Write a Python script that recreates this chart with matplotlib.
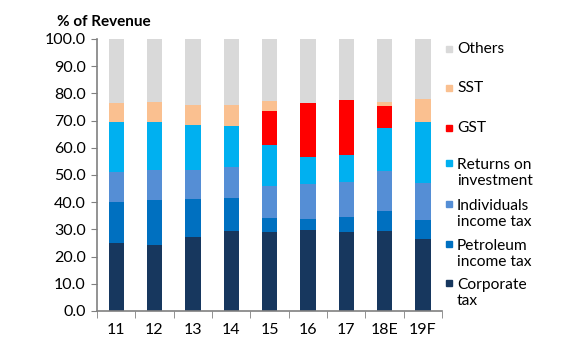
import matplotlib
matplotlib.use("Agg")
import matplotlib.pyplot as plt
import numpy as np
from matplotlib.patches import Rectangle

plt.rcParams['font.family'] = ['Lato', 'DejaVu Sans']

years = ["11", "12", "13", "14", "15", "16", "17", "18E", "19F"]
corporate = [25.0, 24.4, 27.1, 29.3, 28.9, 29.6, 29.0, 29.5, 26.4]
petroleum = [15.0, 16.3, 13.9, 12.2, 5.2, 4.1, 5.4, 7.2, 6.9]
individuals = [11.0, 11.2, 10.9, 11.3, 12.0, 13.0, 13.1, 14.8, 13.6]
returns = [18.5, 17.6, 16.5, 15.2, 15.0, 10.0, 9.9, 15.8, 22.6]
gst = [0.0, 0.0, 0.0, 0.0, 12.5, 19.6, 20.1, 8.1, 0.0]
sst = [7.1, 7.4, 7.4, 7.8, 3.6, 0.0, 0.0, 1.6, 8.5]
others = [23.4, 23.1, 24.2, 24.2, 22.8, 23.7, 22.5, 23.0, 22.0]

series = [
    ("Corporate\ntax", corporate, "#17375E"),
    ("Petroleum\nincome tax", petroleum, "#0070C0"),
    ("Individuals\nincome tax", individuals, "#558ED5"),
    ("Returns on\ninvestment", returns, "#00B0F0"),
    ("GST", gst, "#FF0000"),
    ("SST", sst, "#FAC090"),
    ("Others", others, "#D9D9D9"),
]

fig = plt.figure(figsize=(5.67, 3.5), dpi=100)
W, H = 567, 350
ax = fig.add_axes([97 / W, 1 - 311 / H, (442 - 97) / W, (311 - 39) / H])

x = np.arange(len(years))
bottom = np.zeros(len(years))
for name, vals, col in series:
    v = np.array(vals)
    ax.bar(x, v, bottom=bottom, width=0.4, color=col, edgecolor='none')
    bottom += v

ax.set_xlim(-0.5, len(years) - 0.5)
ax.set_ylim(0, 100)
ax.set_yticks(np.arange(0, 101, 10))
ax.set_yticklabels([f"{v:.1f}" for v in np.arange(0, 101, 10)], fontsize=11.5)
ax.set_xticks(x)
ax.set_xticklabels(years, fontsize=11.5)
ax.set_xticks(np.arange(-0.5, len(years), 1), minor=True)
ax.tick_params(axis='x', which='major', length=0, pad=9)
ax.tick_params(axis='x', which='minor', length=5, color='#808080', direction='out')
ax.tick_params(axis='y', length=4, color='#808080', direction='out', pad=4)
for s in ['top', 'right']:
    ax.spines[s].set_visible(False)
for s in ['left', 'bottom']:
    ax.spines[s].set_color('#808080')
    ax.spines[s].set_linewidth(1.2)

fig.text(57 / W, 1 - 22 / H, "% of Revenue", fontsize=11, fontweight='bold',
         va='center', ha='left')

# legend placed manually (centres in pixel y)
legend_pos = {
    "Others": 49, "SST": 88, "GST": 128,
    "Returns on\ninvestment": 173, "Individuals\nincome tax": 214,
    "Petroleum\nincome tax": 254, "Corporate\ntax": 293,
}
for name, vals, col in series:
    yc = legend_pos[name]
    first_line_y = yc if "\n" not in name else yc - 10
    fig.patches.append(Rectangle((446 / W, 1 - (first_line_y + 3) / H), 6 / W, 6 / H,
                                 transform=fig.transFigure, color=col, figure=fig))
    fig.text(457 / W, 1 - yc / H, name, fontsize=11.2, va='center', ha='left',
             linespacing=1.2)

fig.savefig("out.png", dpi=100)
